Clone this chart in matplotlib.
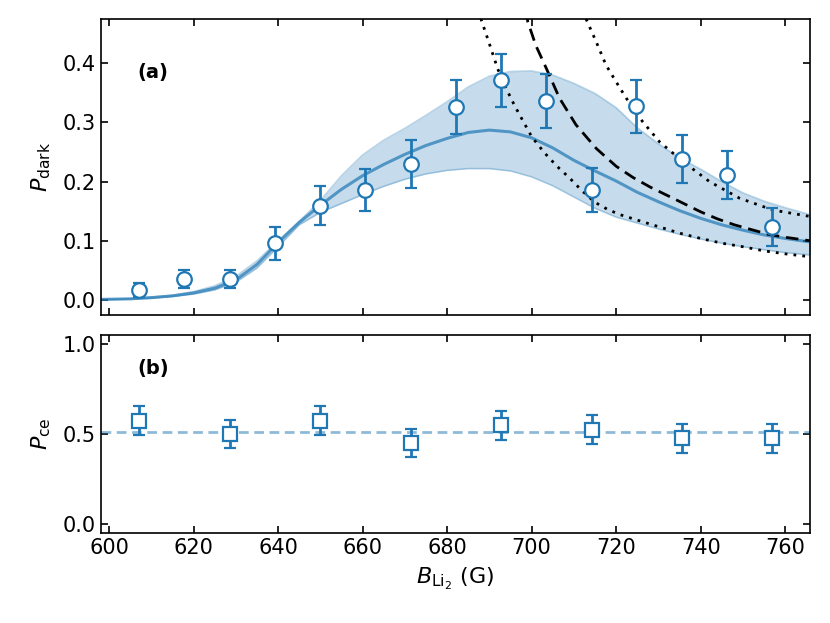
import numpy as np
import matplotlib
matplotlib.use("Agg")
import matplotlib.pyplot as plt

plt.rcParams['font.family'] = ['DejaVu Sans']
plt.rcParams['mathtext.fontset'] = 'dejavusans'

# ---- measured data (a) ----
b_field = [607.1, 617.7, 628.6, 639.2, 649.9, 660.5, 671.4, 682.0, 692.7, 703.3,
           714.2, 724.8, 735.7, 746.3, 757.0]
p_dark = [0.017, 0.035, 0.035, 0.096, 0.159, 0.186, 0.230, 0.326, 0.371, 0.336,
          0.186, 0.327, 0.238, 0.211, 0.123]
p_dark_err = [0.012, 0.015, 0.015, 0.028, 0.033, 0.035, 0.040, 0.045, 0.045, 0.045,
              0.037, 0.045, 0.040, 0.040, 0.032]

# ---- model curve with band (a) ----
model_b = [598, 605, 610, 615, 620, 625, 630, 635, 640, 645, 650, 655, 660, 665, 670,
           675, 680, 685, 690, 695, 700, 705, 710, 715, 720, 725, 730, 735, 740, 745,
           750, 755, 760, 766]
model_mean = [0.001, 0.002, 0.004, 0.007, 0.012, 0.020, 0.034, 0.060, 0.097, 0.131,
              0.160, 0.187, 0.210, 0.229, 0.246, 0.261, 0.273, 0.283, 0.287, 0.284,
              0.274, 0.257, 0.236, 0.218, 0.201, 0.182, 0.166, 0.151, 0.138, 0.127,
              0.118, 0.110, 0.104, 0.098]
model_upper = [0.001, 0.002, 0.005, 0.008, 0.014, 0.024, 0.040, 0.066, 0.100, 0.133,
               0.168, 0.210, 0.245, 0.270, 0.290, 0.312, 0.335, 0.360, 0.378, 0.386,
               0.387, 0.380, 0.366, 0.349, 0.325, 0.291, 0.264, 0.240, 0.221, 0.200,
               0.181, 0.167, 0.156, 0.144]
model_lower = [0.0005, 0.0015, 0.003, 0.006, 0.010, 0.017, 0.030, 0.054, 0.090, 0.127,
               0.148, 0.163, 0.178, 0.192, 0.204, 0.213, 0.219, 0.222, 0.222, 0.218,
               0.208, 0.193, 0.174, 0.155, 0.140, 0.130, 0.120, 0.111, 0.103, 0.096,
               0.090, 0.085, 0.080, 0.076]

# ---- black reference curves (a) ----
dash_b = [698.6, 699.1, 701, 703.5, 706.6, 710.5, 715.3, 720, 724, 728, 732, 736, 740,
          744, 748, 752, 756, 760, 766]
dash_p = [0.49, 0.470, 0.430, 0.391, 0.341, 0.296, 0.256, 0.226, 0.207, 0.191, 0.177,
          0.163, 0.149, 0.137, 0.127, 0.119, 0.111, 0.106, 0.100]

dot_lo_b = [687.5, 688.1, 690, 692, 694, 696, 698, 700, 703, 706, 709, 712, 715, 718,
            721, 725, 730, 735, 740, 745, 750, 755, 760, 766]
dot_lo_p = [0.49, 0.473, 0.433, 0.390, 0.357, 0.328, 0.302, 0.276, 0.249, 0.226, 0.206,
            0.184, 0.165, 0.153, 0.144, 0.135, 0.124, 0.113, 0.104, 0.096, 0.090,
            0.083, 0.078, 0.073]

dot_hi_b = [712.7, 713.0, 715.3, 717.6, 719.2, 721, 722.4, 726.3, 730.3, 735.8, 742.1,
            749.2, 757.1, 766]
dot_hi_p = [0.49, 0.473, 0.436, 0.397, 0.378, 0.357, 0.341, 0.301, 0.267, 0.234, 0.200,
            0.172, 0.152, 0.141]

# ---- measured data (b) ----
b_field_ce = [607.1, 628.6, 649.9, 671.4, 692.7, 714.2, 735.7, 757.0]
p_ce = [0.575, 0.501, 0.575, 0.451, 0.549, 0.525, 0.477, 0.477]
p_ce_err = [0.080, 0.080, 0.080, 0.080, 0.080, 0.080, 0.080, 0.080]
p_ce_mean = 0.51

C0 = '#1f77b4'
FS = 15
LFS = 16

fig = plt.figure(figsize=(8.30, 6.23), dpi=100)
ax1 = fig.add_axes([0.1217, 0.4944, 0.8543, 0.4751])
ax2 = fig.add_axes([0.1217, 0.1445, 0.8543, 0.3178], sharex=ax1)

# panel (a)
ax1.fill_between(model_b, model_lower, model_upper, color=C0, alpha=0.25, lw=0)
ax1.plot(model_b, model_upper, color=C0, alpha=0.3, lw=1.2)
ax1.plot(model_b, model_lower, color=C0, alpha=0.3, lw=1.2)
ax1.plot(model_b, model_mean, color=C0, alpha=0.7, lw=2.2)
ax1.plot(dash_b, dash_p, color='black', lw=2, ls=(0, (4.5, 2.5)))
ax1.plot(dot_lo_b, dot_lo_p, color='black', lw=2, ls=(0, (1, 2.2)))
ax1.plot(dot_hi_b, dot_hi_p, color='black', lw=2, ls=(0, (1, 2.2)))
ax1.errorbar(b_field, p_dark, yerr=p_dark_err, fmt='o', ms=10.5, mfc='white',
             mec=C0, mew=1.6, color=C0, elinewidth=2, capsize=4.5, capthick=2, zorder=5)
ax1.set_ylim(-0.0253, 0.4747)
ax1.set_yticks([0.0, 0.1, 0.2, 0.3, 0.4])
ax1.set_ylabel(r'$P_{\rm dark}$', fontsize=LFS, labelpad=7)
ax1.text(0.051, 0.82, '(a)', transform=ax1.transAxes, fontsize=14, fontweight='bold',
         va='center', ha='left')

# panel (b)
ax2.axhline(p_ce_mean, color=C0, alpha=0.5, lw=2, ls=(0, (3.5, 2)))
ax2.errorbar(b_field_ce, p_ce, yerr=p_ce_err, fmt='s', ms=9.5, mfc='white',
             mec=C0, mew=1.6, color=C0, elinewidth=2, capsize=4, capthick=2, zorder=5)
ax2.set_ylim(-0.05, 1.052)
ax2.set_yticks([0.0, 0.5, 1.0])
ax2.set_ylabel(r'$P_{\rm ce}$', fontsize=LFS, labelpad=7)
ax2.set_xlabel(r'$B_{\rm Li_2}$ (G)', fontsize=LFS, labelpad=6)
ax2.text(0.051, 0.83, '(b)', transform=ax2.transAxes, fontsize=14, fontweight='bold',
         va='center', ha='left')

ax1.set_xlim(598.1, 765.9)
ax2.set_xticks([600, 620, 640, 660, 680, 700, 720, 740, 760])

for ax in (ax1, ax2):
    ax.tick_params(direction='in', top=True, right=True, labelsize=FS, length=5, width=1.2)
    for s in ax.spines.values():
        s.set_linewidth(1.2)
ax1.tick_params(labelbottom=False)

fig.savefig('out.png', dpi=100)
